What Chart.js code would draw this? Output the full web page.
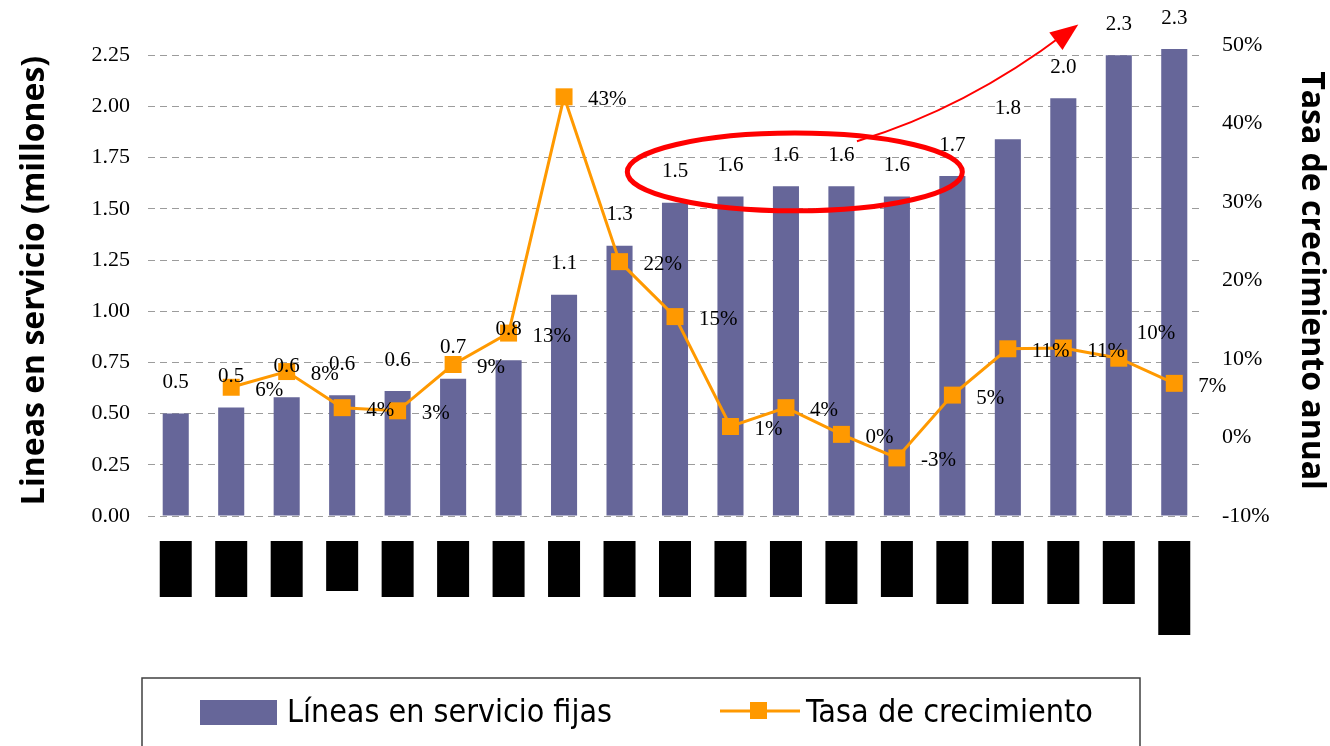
<!DOCTYPE html>
<html>
<head>
<meta charset="utf-8">
<script src="https://cdn.jsdelivr.net/npm/chart.js@4.4.1/dist/chart.umd.min.js"></script>
<style>
  html, body { margin: 0; padding: 0; background: #fff; }
  canvas { display: block; }
</style>
</head>
<body>
<canvas id="chart" width="1330" height="746"></canvas>
<script>
// categories are redacted (black boxes) in the source image
const periods = ['P01','P02','P03','P04','P05','P06','P07','P08','P09','P10',
                 'P11','P12','P13','P14','P15','P16','P17','P18','P19'];

// Líneas en servicio fijas (millones)
const lineasFijas = [0.50, 0.53, 0.58, 0.59, 0.61, 0.67, 0.76, 1.08, 1.32, 1.53,
                     1.56, 1.61, 1.61, 1.56, 1.66, 1.84, 2.04, 2.25, 2.28];

// Tasa de crecimiento anual (%)
const tasaCrec = [null, 6.4, 8.4, 3.8, 3.4, 9.3, 13.3, 43.4, 22.4, 15.4,
                  1.4, 3.8, 0.4, -2.6, 5.4, 11.3, 11.4, 10.1, 6.9];

const leftTicks  = { min: 0, max: 2.3, step: 0.25 };
const rightTicks = { min: -10, max: 50, step: 10 };

// length of the black redaction boxes under each category
const redactLen = [56, 56, 56, 50, 56, 56, 56, 56, 56, 56, 56, 56, 63, 56, 63, 63, 63, 63, 94];

const BAR    = '#666699';
const ORANGE = '#FF9900';
const GRID   = '#9C9C9C';
const SERIF  = '"Liberation Serif", "Times New Roman", serif';

const overlay = {
  id: 'overlay',
  afterDatasetsDraw(chart) {
    const { ctx, scales: { x } } = chart;
    ctx.save();
    ctx.fillStyle = '#000';
    ctx.font = '21px ' + SERIF;
    ctx.textBaseline = 'middle';

    // value labels above bars
    ctx.textAlign = 'center';
    chart.getDatasetMeta(0).data.forEach((el, i) => {
      ctx.fillText(lineasFijas[i].toFixed(1), el.x, el.y - 31);
    });

    // growth labels right of the markers
    ctx.textAlign = 'left';
    chart.getDatasetMeta(1).data.forEach((el, i) => {
      const v = tasaCrec[i];
      if (v === null) return;
      const up = i === 17;
      ctx.fillText(Math.round(v) + '%', el.x + (up ? 18 : 24), el.y + (up ? -25 : 3));
    });

    // redaction boxes under the axis
    periods.forEach((p, i) => {
      const cx = x.getPixelForValue(i);
      ctx.fillRect(cx - 16, 541, 32, redactLen[i]);
    });
    ctx.restore();
  },
  afterDraw(chart) {
    const { ctx, scales: { x, y } } = chart;
    ctx.save();

    // red ellipse around the flat period
    const ex = x.getPixelForValue(11.16);
    const ey = y.getPixelForValue(1.68);
    const rx = x.getPixelForValue(14.18) - ex;
    const ry = y.getPixelForValue(1.49) - ey;
    ctx.strokeStyle = '#FF0000';
    ctx.lineWidth = 5;
    ctx.beginPath();
    ctx.ellipse(ex, ey, rx, ry, 0, 0, Math.PI * 2);
    ctx.stroke();

    // curved arrow
    const p0 = [x.getPixelForValue(12.28), y.getPixelForValue(1.83)];
    const p1 = [x.getPixelForValue(14.25), y.getPixelForValue(1.99)];
    const p2 = [x.getPixelForValue(16.27), y.getPixelForValue(2.40)];
    ctx.lineWidth = 2;
    ctx.beginPath();
    ctx.moveTo(p0[0], p0[1]);
    ctx.quadraticCurveTo(p1[0], p1[1], p2[0] - 12, p2[1] + 8);
    ctx.stroke();
    const ang = Math.atan2(p2[1] - p1[1], p2[0] - p1[0]);
    ctx.fillStyle = '#FF0000';
    ctx.beginPath();
    ctx.moveTo(p2[0], p2[1]);
    ctx.lineTo(p2[0] - 28 * Math.cos(ang) + 11 * Math.sin(ang), p2[1] - 28 * Math.sin(ang) - 11 * Math.cos(ang));
    ctx.lineTo(p2[0] - 28 * Math.cos(ang) - 11 * Math.sin(ang), p2[1] - 28 * Math.sin(ang) + 11 * Math.cos(ang));
    ctx.closePath();
    ctx.fill();

    // legend box
    ctx.strokeStyle = '#404040';
    ctx.lineWidth = 1.5;
    ctx.strokeRect(142, 678, 998, 90);

    const ds = chart.data.datasets;
    ctx.fillStyle = BAR;
    ctx.fillRect(200, 700, 77, 25);

    ctx.strokeStyle = ORANGE;
    ctx.lineWidth = 3;
    ctx.beginPath();
    ctx.moveTo(720, 711);
    ctx.lineTo(800, 711);
    ctx.stroke();
    ctx.fillStyle = ORANGE;
    ctx.fillRect(750, 702, 17, 17);

    ctx.fillStyle = '#000';
    ctx.font = '32px "DejaVu Sans Condensed", "DejaVu Sans", sans-serif';
    ctx.textAlign = 'left';
    ctx.textBaseline = 'alphabetic';
    const drawFit = (t, x0, w) => {
      const sx = w / ctx.measureText(t).width;
      ctx.save();
      ctx.translate(x0, 722);
      ctx.scale(sx, 1);
      ctx.fillText(t, 0, 0);
      ctx.restore();
    };
    drawFit(ds[0].label, 287, 325);
    drawFit(ds[1].label, 806, 287);
    ctx.restore();
  }
};

new Chart(document.getElementById('chart'), {
  type: 'bar',
  data: {
    labels: periods,
    datasets: [
      {
        type: 'bar',
        label: 'Líneas en servicio fijas',
        data: lineasFijas,
        yAxisID: 'y',
        backgroundColor: BAR,
        barPercentage: 0.47,
        categoryPercentage: 1,
        clip: false,
        order: 2
      },
      {
        type: 'line',
        label: 'Tasa de crecimiento',
        data: tasaCrec,
        yAxisID: 'y1',
        borderColor: ORANGE,
        backgroundColor: ORANGE,
        borderWidth: 3,
        pointStyle: 'rect',
        pointRadius: 12,
        pointBorderWidth: 0,
        tension: 0,
        order: 1
      }
    ]
  },
  options: {
    responsive: false,
    animation: false,
    devicePixelRatio: 1,
    layout: { padding: { top: 45, bottom: 230, left: 0, right: 0 } },
    plugins: { legend: { display: false }, tooltip: { enabled: false } },
    scales: {
      x: { display: false },
      y: {
        position: 'left',
        min: leftTicks.min,
        max: leftTicks.max,
        ticks: {
          stepSize: leftTicks.step,
          includeBounds: false,
          padding: 18,
          color: '#000',
          font: { family: SERIF, size: 22 },
          callback: v => v.toFixed(2)
        },
        grid: { color: GRID, drawTicks: false, lineWidth: 1 },
        border: { display: false, dash: [7, 5] },
        title: {
          display: true,
          text: 'Lineas en servicio (millones)',
          color: '#000',
          font: { family: 'Open Sans', weight: 'bold', size: 32 },
          padding: { top: 16, bottom: 0 }
        },
        afterFit: s => { s.width = 148; }
      },
      y1: {
        position: 'right',
        min: rightTicks.min,
        max: rightTicks.max,
        ticks: {
          stepSize: rightTicks.step,
          padding: 20,
          color: '#000',
          font: { family: SERIF, size: 22 },
          callback: v => v + '%'
        },
        grid: { display: false, drawTicks: false },
        border: { display: false },
        title: {
          display: true,
          text: 'Tasa de crecimiento anual',
          color: '#000',
          font: { family: 'Open Sans', weight: 'bold', size: 32 },
          padding: { top: 0, bottom: 0 }
        },
        afterFit: s => { s.width = 128; }
      }
    }
  },
  plugins: [overlay]
});
</script>
</body>
</html>
